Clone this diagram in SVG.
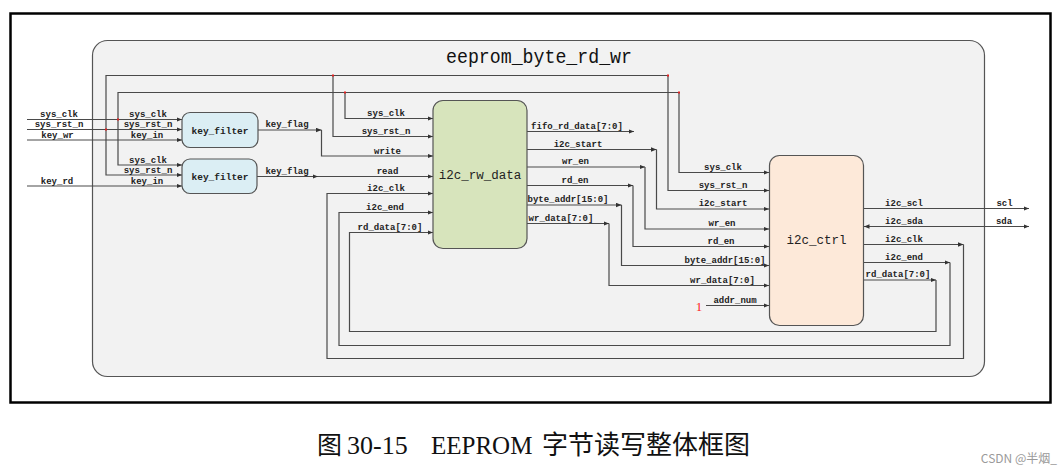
<svg xmlns="http://www.w3.org/2000/svg" width="1064" height="474" viewBox="0 0 1064 474">
<defs>
<marker id="ar" markerUnits="userSpaceOnUse" markerWidth="6" markerHeight="5" refX="5.5" refY="2.25" orient="auto">
<path d="M0,0 L5.5,2.25 L0,4.5 z" fill="#333"/>
</marker>
<marker id="al" markerUnits="userSpaceOnUse" markerWidth="6" markerHeight="5" refX="0" refY="2.25" orient="auto">
<path d="M5.5,0 L0,2.25 L5.5,4.5 z" fill="#333"/>
</marker>
</defs>
<style>
.w{fill:none;stroke:#4a4a4a;stroke-width:1.2}
.a{marker-end:url(#ar)}
.lb{font-family:"Liberation Mono",monospace;font-size:9px;font-weight:bold;fill:#222;text-anchor:middle}
.bx{stroke:#555;stroke-width:1.2}
.bt{font-family:"Liberation Mono",monospace;fill:#222;text-anchor:middle}
.dot{fill:#e02020}
</style>
<rect x="0" y="0" width="1064" height="474" fill="#ffffff"/>
<rect x="10.5" y="13.5" width="1040" height="389" fill="#ffffff" stroke="#000" stroke-width="2.5"/>

<g id="eeprom_byte_rd_wr">
<rect x="92.5" y="40.5" width="892" height="336" rx="15" fill="#f2f2f2" stroke="#555" stroke-width="1.2"/>
<text x="539" y="63" font-family="Liberation Mono, monospace" font-size="20" fill="#111" text-anchor="middle" textLength="186" lengthAdjust="spacingAndGlyphs">eeprom_byte_rd_wr</text>
</g>

<g id="connectors">
<line class="w a" x1="27" y1="119.5" x2="182" y2="119.5"/>
<line class="w a" x1="27" y1="129.5" x2="182" y2="129.5"/>
<line class="w a" x1="27" y1="140" x2="182" y2="140"/>
<line class="w a" x1="27" y1="186" x2="182" y2="186"/>
<polyline class="w a" points="106,129.5 106,75.5 668,75.5 668,190.5 769,190.5"/>
<polyline class="w a" points="106,129.5 106,175 182,175"/>
<polyline class="w a" points="333,75.5 333,136.5 433,136.5"/>
<polyline class="w a" points="118,119.5 118,92.5 679,92.5 679,172.5 769,172.5"/>
<polyline class="w a" points="118,119.5 118,165 182,165"/>
<polyline class="w a" points="345,92.5 345,118.5 433,118.5"/>
<rect class="dot" x="105" y="128.5" width="2" height="2"/>
<rect class="dot" x="117" y="118.5" width="2" height="2"/>
<rect class="dot" x="332" y="74.5" width="2" height="2"/>
<rect class="dot" x="344" y="91.5" width="2" height="2"/>
<rect class="dot" x="667" y="74.5" width="2" height="2"/>
<rect class="dot" x="678" y="91.5" width="2" height="2"/>
<line class="w a" x1="258" y1="130" x2="321.5" y2="130"/>
<polyline class="w a" points="321.5,130 321.5,156 433,156"/>
<line class="w a" x1="257" y1="176.5" x2="318" y2="176.5"/>
<line class="w a" x1="318" y1="176.5" x2="433" y2="176.5"/>
<line class="w a" x1="527" y1="131.5" x2="634" y2="131.5"/>
<line class="w a" x1="527" y1="149.5" x2="656.5" y2="149.5"/>
<polyline class="w a" points="656.5,149.5 656.5,209 769,209"/>
<line class="w a" x1="527" y1="167" x2="645" y2="167"/>
<polyline class="w a" points="645,167 645,229 769,229"/>
<line class="w a" x1="527" y1="185.5" x2="633" y2="185.5"/>
<polyline class="w a" points="633,185.5 633,246.5 769,246.5"/>
<line class="w a" x1="527" y1="205" x2="621.5" y2="205"/>
<polyline class="w a" points="621.5,205 621.5,265.5 769,265.5"/>
<line class="w a" x1="527" y1="223.5" x2="609" y2="223.5"/>
<polyline class="w a" points="609,223.5 609,285.5 769,285.5"/>
<line class="w a" x1="706" y1="305.5" x2="769" y2="305.5"/>
<line class="w a" x1="864" y1="208.5" x2="1029" y2="208.5"/>
<line class="w a" x1="864" y1="226.5" x2="1029" y2="226.5" marker-start="url(#al)"/>
<line class="w a" x1="864" y1="244.5" x2="963.5" y2="244.5"/>
<polyline class="w a" points="963.5,244.5 963.5,358.5 327,358.5 327,193.5 433,193.5"/>
<line class="w a" x1="864" y1="262.5" x2="950" y2="262.5"/>
<polyline class="w a" points="950,262.5 950,345.5 339,345.5 339,212.5 433,212.5"/>
<line class="w a" x1="864" y1="280" x2="936" y2="280"/>
<polyline class="w a" points="936,280 936,331.5 349.5,331.5 349.5,232.5 433,232.5"/>

<text class="lb" x="59" y="117">sys_clk</text>
<text class="lb" x="59" y="127">sys_rst_n</text>
<text class="lb" x="57.5" y="137.5">key_wr</text>
<text class="lb" x="57" y="183.5">key_rd</text>
<text class="lb" x="148" y="117">sys_clk</text>
<text class="lb" x="148" y="127">sys_rst_n</text>
<text class="lb" x="147" y="137.5">key_in</text>
<text class="lb" x="148" y="162.5">sys_clk</text>
<text class="lb" x="148" y="172.5">sys_rst_n</text>
<text class="lb" x="147" y="183.5">key_in</text>
<text class="lb" x="287" y="127">key_flag</text>
<text class="lb" x="287" y="173.5">key_flag</text>
<text class="lb" x="386" y="115.5">sys_clk</text>
<text class="lb" x="386" y="134">sys_rst_n</text>
<text class="lb" x="387.5" y="153.5">write</text>
<text class="lb" x="387.5" y="174">read</text>
<text class="lb" x="386" y="190.5">i2c_clk</text>
<text class="lb" x="385" y="209.5">i2c_end</text>
<text class="lb" x="390" y="229.5">rd_data[7:0]</text>
<text class="lb" x="577" y="128.5">fifo_rd_data[7:0]</text>
<text class="lb" x="578" y="146.5">i2c_start</text>
<text class="lb" x="575.5" y="164">wr_en</text>
<text class="lb" x="575" y="182.5">rd_en</text>
<text class="lb" x="568" y="202">byte_addr[15:0]</text>
<text class="lb" x="561" y="220.5">wr_data[7:0]</text>
<text class="lb" x="723" y="169.5">sys_clk</text>
<text class="lb" x="723" y="188">sys_rst_n</text>
<text class="lb" x="723" y="206">i2c_start</text>
<text class="lb" x="722" y="226">wr_en</text>
<text class="lb" x="721" y="243.5">rd_en</text>
<text class="lb" x="725" y="262.5">byte_addr[15:0]</text>
<text class="lb" x="722.5" y="282.5">wr_data[7:0]</text>
<text class="lb" x="735" y="302.5">addr_num</text>
<text x="699" y="310.5" font-family="Liberation Serif, serif" font-size="13" fill="#ff1a1a" text-anchor="middle">1</text>
<text class="lb" x="904" y="205.5">i2c_scl</text>
<text class="lb" x="904" y="223.5">i2c_sda</text>
<text class="lb" x="904" y="241.5">i2c_clk</text>
<text class="lb" x="904" y="259.5">i2c_end</text>
<text class="lb" x="898" y="277">rd_data[7:0]</text>
<text class="lb" x="1004.5" y="205.5">scl</text>
<text class="lb" x="1004" y="223.5">sda</text>
</g>

<g id="key_filter_wr">
<rect class="bx" x="182" y="112.5" width="76" height="35" rx="8" fill="#dbeef4"/>
<text class="bt" x="220" y="133.5" font-size="9.5" font-weight="bold">key_filter</text>
</g>
<g id="key_filter_rd">
<rect class="bx" x="182" y="159" width="75" height="34.5" rx="8" fill="#dbeef4"/>
<text class="bt" x="220" y="179.5" font-size="9.5" font-weight="bold">key_filter</text>
</g>
<g id="i2c_rw_data">
<rect class="bx" x="433" y="100.5" width="94" height="148" rx="10" fill="#d7e4bc"/>
<text class="bt" x="480" y="179" font-size="12.5">i2c_rw_data</text>
</g>
<g id="i2c_ctrl">
<rect class="bx" x="769.5" y="155.5" width="94" height="170" rx="10" fill="#fde9d9"/>
<text class="bt" x="816.5" y="243.5" font-size="12.5">i2c_ctrl</text>
</g>

<g id="caption">
<text y="454" font-family="Liberation Serif, 'Noto Sans CJK SC', serif" fill="#111"><tspan x="317" font-size="25" font-family="'Noto Sans CJK SC', sans-serif">图</tspan><tspan x="347" font-size="26">30-15</tspan><tspan x="431" font-size="25">EEPROM</tspan><tspan x="542" font-size="26" font-family="'Noto Sans CJK SC', sans-serif">字节读写整体框图</tspan></text>
<text x="1057" y="463" font-family="'Noto Sans CJK SC', sans-serif" font-size="12" fill="#9a9a9a" text-anchor="end">CSDN @半烟_</text>
</g>
</svg>
